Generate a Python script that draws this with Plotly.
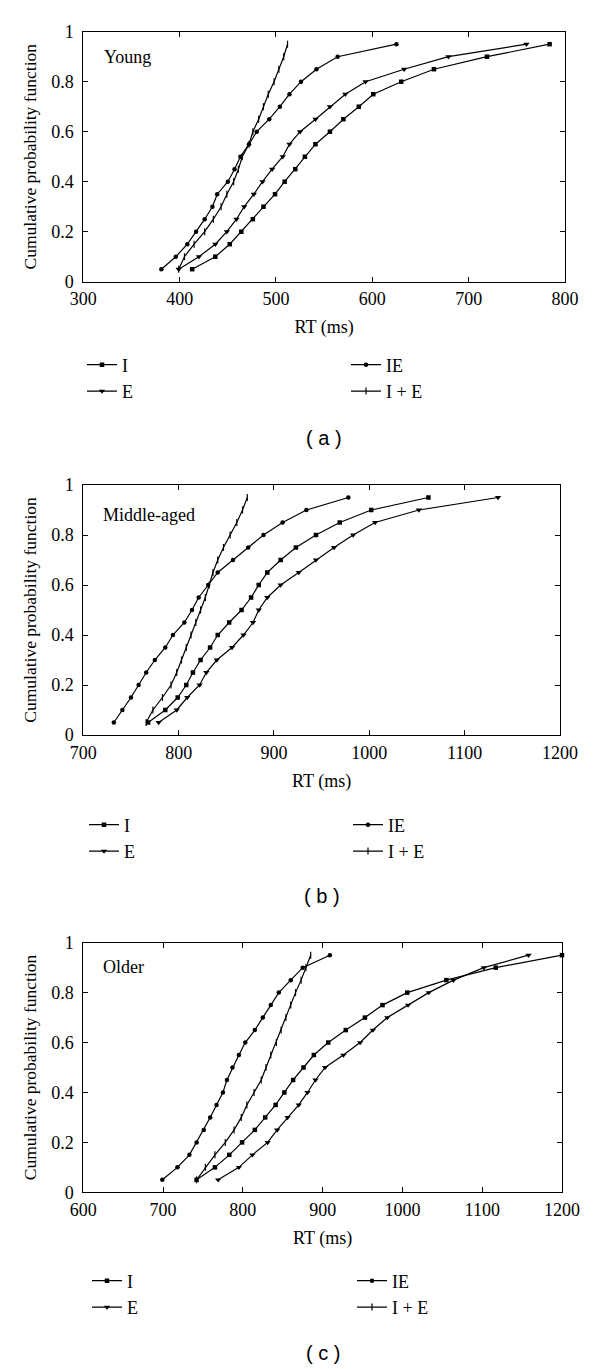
import plotly.graph_objects as go

# Cumulative probability levels (y values shared by all series)
cdf_levels = [0.05, 0.10, 0.15, 0.20, 0.25, 0.30, 0.35, 0.40, 0.45, 0.50,
              0.55, 0.60, 0.65, 0.70, 0.75, 0.80, 0.85, 0.90, 0.95]

# (a) Young
young_I   = [413, 437, 452, 464, 476, 487, 499, 509, 520, 530, 541, 556, 570, 586, 601, 630, 664, 719, 784]
young_E   = [399, 420, 437, 449, 459, 467, 477, 486, 496, 507, 514, 525, 541, 556, 572, 593, 633, 679, 760]
young_IE  = [381, 396, 408, 417, 426, 434, 439, 450, 457, 463, 472, 480, 493, 504, 514, 526, 542, 564, 625]
young_IpE = [399, 405, 415, 426, 435, 443, 449, 456, 461, 465, 472, 476, 482, 487, 492, 498, 503, 508, 512]

# (b) Middle-aged
mid_I   = [768, 786, 799, 808, 815, 823, 833, 841, 853, 866, 876, 884, 893, 907, 923, 944, 969, 1002, 1062]
mid_E   = [779, 798, 809, 822, 829, 840, 856, 868, 878, 884, 893, 907, 926, 944, 963, 983, 1006, 1052, 1135]
mid_IE  = [732, 741, 750, 758, 766, 775, 786, 794, 806, 814, 821, 831, 841, 857, 873, 889, 909, 934, 978]
mid_IpE = [766, 773, 783, 792, 798, 803, 808, 813, 818, 823, 828, 832, 836, 841, 847, 854, 861, 867, 872]

# (c) Older
old_I   = [742, 765, 783, 799, 815, 828, 841, 852, 863, 876, 889, 907, 929, 953, 975, 1006, 1055, 1117, 1200]
old_E   = [769, 795, 812, 831, 843, 856, 870, 881, 891, 903, 926, 947, 963, 981, 1007, 1033, 1064, 1102, 1158]
old_IE  = [699, 718, 733, 742, 751, 759, 767, 775, 780, 787, 795, 803, 815, 825, 835, 845, 860, 875, 909]
old_IpE = [742, 753, 765, 778, 789, 798, 805, 814, 823, 829, 835, 842, 848, 854, 860, 866, 873, 879, 885]

series_names = ["I", "E", "IE", "I + E"]
panel_names = ["Young", "Middle-aged", "Older"]
panel_letters = ["( a )", "( b )", "( c )"]
x_ranges = [[300, 800], [700, 1200], [600, 1200]]
x_ticks = [[300, 400, 500, 600, 700, 800],
           [700, 800, 900, 1000, 1100, 1200],
           [600, 700, 800, 900, 1000, 1100, 1200]]
y_ticks = [0, 0.2, 0.4, 0.6, 0.8, 1]

panels = [
    [young_I, young_E, young_IE, young_IpE],
    [mid_I, mid_E, mid_IE, mid_IpE],
    [old_I, old_E, old_IE, old_IpE],
]

# The page body has an 8px margin, so the figure is drawn 8px in from the window edge.
OFF = 8
W, H = 600 - OFF, 1369 - OFF
SERIF = "Liberation Serif"
SANS = "Liberation Sans"

# screen-pixel geometry of each panel (left, right, top, bottom)
geom = [
    (83.3, 565.0, 31.7, 281.7),
    (83.3, 560.0, 485.0, 735.0),
    (83.3, 562.0, 942.7, 1192.3),
]
legend_top = [346.5, 806.5, 1262.5]
letter_y = [438, 896, 1353]
legend_left_x = [[82, 346], [84, 348], [87, 352]]
name_y = [0.898, 0.88, 0.903]

symbols = {
    "I": dict(symbol="square", size=4.5, color="black"),
    "E": dict(symbol="triangle-down", size=5.5, color="black"),
    "IE": dict(symbol="circle", size=4.5, color="black"),
    "I + E": dict(symbol="line-ns", size=5, color="black", line=dict(width=1.2, color="black")),
}


def fx(px):
    return (px - OFF) / W


def fy(py):
    return 1 - (py - OFF) / H


fig = go.Figure()
layout = {}
annotations = []

for p in range(3):
    ax = "" if p == 0 else str(p + 1)
    l, r, t, b = geom[p]
    xd = [fx(l), fx(r)]
    yd = [fy(b), fy(t)]
    leg_left = "legend" if p == 0 else f"legend{2 * p + 1}"
    leg_right = f"legend{2 * p + 2}"
    for s, name in enumerate(series_names):
        fig.add_trace(go.Scatter(
            x=panels[p][s], y=cdf_levels, mode="lines+markers", name=name,
            line=dict(color="black", width=1.2),
            marker=symbols[name],
            xaxis="x" + ax, yaxis="y" + ax,
            legend=leg_left if name in ("I", "E") else leg_right,
            cliponaxis=False,
        ))
    common = dict(showline=True, linecolor="black", linewidth=1, mirror="ticks",
                  ticks="inside", ticklen=5, tickcolor="black", tickwidth=1,
                  showgrid=False, zeroline=False, automargin=False,
                  tickfont=dict(family=SERIF, size=18, color="black"))
    layout["xaxis" + ax] = dict(common, domain=xd, range=x_ranges[p], tickvals=x_ticks[p],
                                anchor="y" + ax, ticklabelstandoff=1,
                                title=dict(text="RT (ms)", standoff=12,
                                           font=dict(family=SERIF, size=18, color="black")))
    layout["yaxis" + ax] = dict(common, domain=yd, range=[0, 1], tickvals=y_ticks,
                                anchor="x" + ax, ticklabelstandoff=5,
                                title=dict(text="Cumulative probability function", standoff=10,
                                           font=dict(family=SERIF, size=17.5, color="black")))
    for k, leg in enumerate([leg_left, leg_right]):
        layout[leg] = dict(x=fx(legend_left_x[p][k]), y=fy(legend_top[p]),
                           xanchor="left", yanchor="top", orientation="v",
                           bgcolor="rgba(0,0,0,0)", borderwidth=0,
                           font=dict(family=SERIF, size=18, color="black"),
                           tracegroupgap=0, itemwidth=30)
    annotations.append(dict(text=panel_names[p], x=0.038, y=name_y[p], xref=f"x{ax} domain",
                            yref=f"y{ax} domain", xanchor="left", yanchor="middle",
                            showarrow=False, font=dict(family=SERIF, size=18, color="black")))
    annotations.append(dict(text=panel_letters[p], x=fx((l + r) / 2), y=fy(letter_y[p]),
                            xref="paper", yref="paper", xanchor="center", yanchor="middle",
                            showarrow=False, font=dict(family=SANS, size=20, color="black")))

fig.update_layout(**layout)
fig.update_layout(template="none", width=W, height=H,
                  margin=dict(l=0, r=0, t=0, b=0, autoexpand=False),
                  paper_bgcolor="white", plot_bgcolor="white",
                  showlegend=True, annotations=annotations)
fig.write_html("out.html")
